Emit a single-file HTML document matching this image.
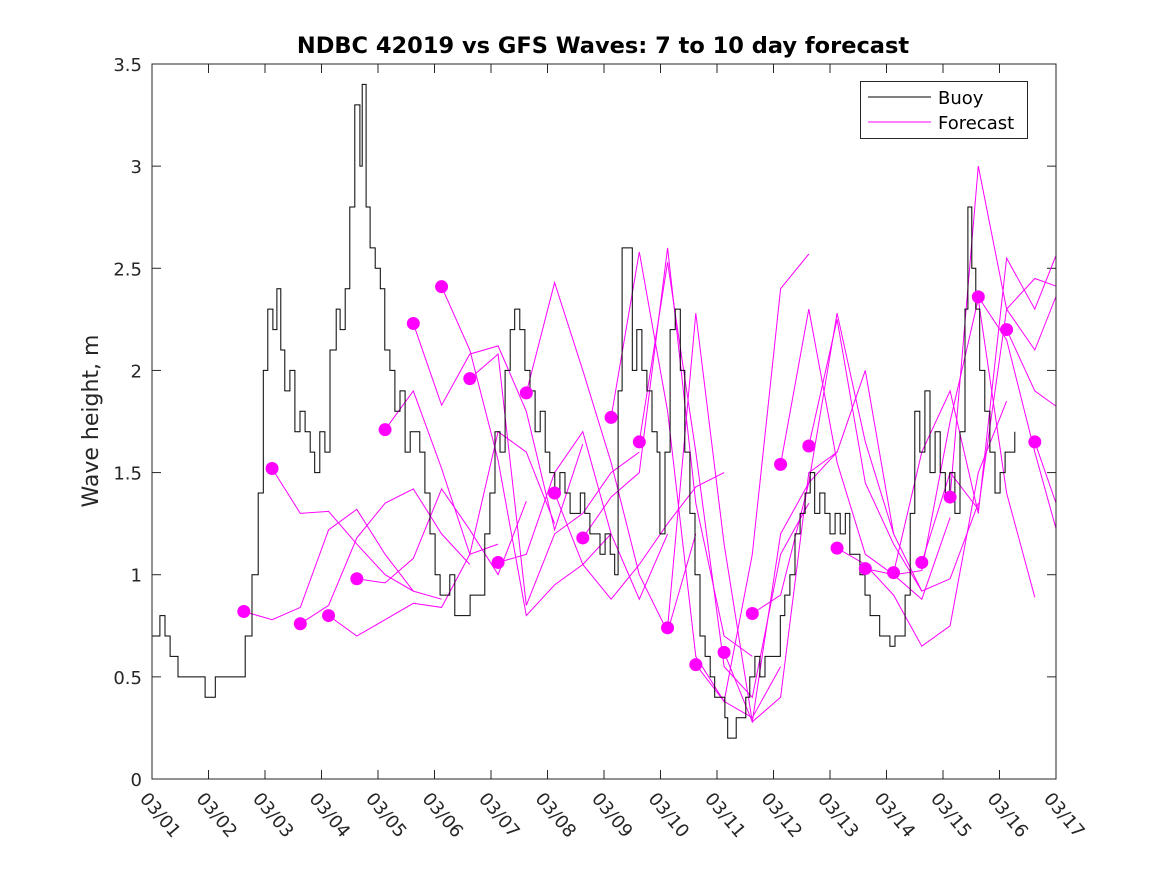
<!DOCTYPE html>
<html><head><meta charset="utf-8"><style>
html,body{margin:0;padding:0;background:#fff;}
svg{display:block;font-family:"DejaVu Sans","Liberation Sans",sans-serif;}
</style></head><body>
<svg id="chart" width="1167" height="875">
<rect x="0" y="0" width="1167" height="875" fill="#fff"/>
<text x="603" y="53" text-anchor="middle" font-size="22.5" font-weight="bold" fill="#000">NDBC 42019 vs GFS Waves: 7 to 10 day forecast</text>
<text transform="translate(98,421) rotate(-90)" text-anchor="middle" font-size="22" fill="#262626">Wave height, m</text>
<defs><clipPath id="plotclip"><rect x="152" y="64" width="904" height="715"/></clipPath></defs>
<g id="ticks"></g>
<g id="series" clip-path="url(#plotclip)"></g>
<rect x="152" y="64" width="904" height="715" fill="none" stroke="#262626" stroke-width="1"/>
<g>
<rect x="860.5" y="81.5" width="167" height="57" fill="#fff" stroke="#262626"/>
<line x1="868" y1="97" x2="931" y2="97" stroke="#000"/>
<text x="938" y="104" font-size="18" fill="#000">Buoy</text>
<line x1="868" y1="122" x2="931" y2="122" stroke="#ff00ff"/>
<text x="938" y="129" font-size="18" fill="#000">Forecast</text>
</g>
</svg>
<script>
const xTickLabels=["03/01","03/02","03/03","03/04","03/05","03/06","03/07","03/08","03/09","03/10","03/11","03/12","03/13","03/14","03/15","03/16","03/17"];
const yTickValues=[0,0.5,1,1.5,2,2.5,3,3.5];
const yTickLabels=["0","0.5","1","1.5","2","2.5","3","3.5"];
const buoyDays=[0,.14,.23,.32,.46,.76,.94,1.12,1.52,1.65,1.77,1.88,1.97,2.05,2.14,2.21,2.28,2.35,2.44,2.53,2.62,2.71,2.80,2.88,2.97,3.06,3.15,3.26,3.33,3.42,3.50,3.59,3.68,3.72,3.79,3.86,3.95,4.04,4.12,4.21,4.30,4.39,4.48,4.57,4.65,4.74,4.83,4.92,5.01,5.10,5.19,5.27,5.36,5.45,5.54,5.63,5.77,5.89,5.98,6.07,6.16,6.25,6.34,6.42,6.51,6.60,6.69,6.78,6.87,6.96,7.04,7.13,7.22,7.31,7.40,7.49,7.58,7.66,7.75,7.84,7.93,8.02,8.11,8.19,8.25,8.32,8.41,8.50,8.58,8.67,8.76,8.85,8.94,8.99,9.08,9.17,9.26,9.35,9.43,9.52,9.61,9.70,9.79,9.88,9.96,10.05,10.14,10.19,10.27,10.34,10.44,10.51,10.58,10.67,10.76,10.85,10.94,11.03,11.12,11.20,11.29,11.38,11.47,11.56,11.65,11.73,11.82,11.91,12.00,12.09,12.18,12.27,12.35,12.44,12.53,12.62,12.71,12.80,12.88,12.97,13.06,13.15,13.33,13.42,13.50,13.59,13.68,13.77,13.86,13.95,14.04,14.12,14.21,14.30,14.39,14.44,14.51,14.58,14.65,14.74,14.83,14.92,15.01,15.10,15.19,15.27];
const buoyHeights=[0.7,0.8,0.7,0.6,0.5,0.5,0.4,0.5,0.5,0.7,1.0,1.4,2.0,2.3,2.2,2.4,2.1,1.9,2.0,1.7,1.8,1.7,1.6,1.5,1.7,1.6,2.1,2.3,2.2,2.4,2.8,3.3,3.0,3.4,2.8,2.6,2.5,2.4,2.1,2.0,1.8,1.9,1.6,1.7,1.7,1.6,1.4,1.2,1.0,0.9,0.9,1.0,0.8,0.8,0.8,0.9,0.9,1.2,1.4,1.7,1.6,2.0,2.2,2.3,2.2,2.0,1.9,1.7,1.8,1.6,1.5,1.4,1.5,1.4,1.3,1.3,1.4,1.3,1.2,1.2,1.1,1.2,1.1,1.0,1.9,2.6,2.6,2.0,2.2,2.0,1.9,1.7,1.6,1.2,1.6,2.2,2.3,2.0,1.6,1.3,1.0,0.7,0.6,0.5,0.4,0.4,0.3,0.2,0.2,0.3,0.3,0.4,0.5,0.6,0.5,0.6,0.6,0.6,0.8,0.9,1.0,1.2,1.3,1.4,1.5,1.3,1.4,1.3,1.2,1.3,1.2,1.3,1.1,1.1,1.0,0.9,0.8,0.8,0.7,0.7,0.65,0.7,0.9,1.3,1.8,1.6,1.9,1.5,1.7,1.5,1.4,1.5,1.3,1.7,2.3,2.8,2.5,2.3,2.0,1.8,1.6,1.4,1.5,1.6,1.6,1.7];
const forecastStartDays=[1.625,2.125,2.625,3.125,3.625,4.125,4.625,5.125,5.625,6.125,6.625,7.125,7.625,8.125,8.625,9.125,9.625,10.125,10.625,11.125,11.625,12.125,12.625,13.125,13.625,14.125,14.625,15.125,15.625];
const forecastStep=0.5;
const forecastValues=[
[0.82,0.78,0.84,1.22,1.32,1.10,0.92],
[1.52,1.30,1.31,1.15,1.00,0.92,0.88],
[0.76,0.85,1.18,1.35,1.42,1.20,1.05],
[0.80,0.70,0.78,0.86,0.84,1.10,1.15],
[0.98,0.96,1.08,1.42,1.22,1.00,1.36],
[1.71,1.90,1.52,1.10,1.70,1.60,1.25],
[2.23,1.83,2.08,2.12,1.80,1.22,1.64],
[2.41,2.10,1.56,0.80,0.95,1.05,1.20],
[1.96,2.08,0.85,1.20,1.30,1.50,1.60],
[1.06,1.10,1.50,1.70,1.20,0.88,1.20],
[1.89,2.43,2.00,1.55,1.00,0.72,1.20],
[1.40,1.05,0.88,1.05,1.25,1.43,1.50],
[1.18,1.38,1.50,2.60,1.35,0.70,0.60],
[1.77,2.58,1.80,0.60,0.38,0.30,0.55],
[1.65,2.53,1.60,0.55,0.40,1.10,1.35],
[0.74,2.28,1.15,0.28,0.40,1.50,1.60],
[0.56,0.38,1.10,2.40,2.57],
[0.62,0.28,1.20,1.45,1.60,2.00,1.20],
[0.81,0.90,1.45,2.28,1.65,1.20,0.92],
[1.54,2.30,1.55,1.10,1.00,0.88,1.28],
[1.63,2.25,1.45,1.15,0.92,0.98,1.35],
[1.13,1.05,0.90,0.65,0.75,1.50,1.85],
[1.03,1.00,1.02,1.75,2.35,1.40,0.89],
[1.01,1.60,1.90,1.30,2.55,2.30,2.65],
[1.06,1.50,1.32,2.30,2.45,2.40,2.75],
[1.38,3.00,2.30,2.10,2.45,2.80,2.98],
[2.36,2.15,1.60,1.10,1.30,1.60],
[2.20,1.90,1.80,1.55,1.30],
[1.65,1.25]];
const NS="http://www.w3.org/2000/svg";
const X0=152,X1=1056,Y0=779,Y1=64,DAYS=16,YMAX=3.5;
function xs(d){return X0+(X1-X0)*d/DAYS;}
function ys(v){return Y0-(Y0-Y1)*v/YMAX;}
const ticks=document.getElementById('ticks');
const series=document.getElementById('series');
function mk(tag,attrs,parent){const e=document.createElementNS(NS,tag);for(const k in attrs)e.setAttribute(k,attrs[k]);parent.appendChild(e);return e;}
xTickLabels.forEach((lab,i)=>{
  const x=xs(i);
  const t=mk('line',{x1:x,y1:Y0,x2:x,y2:Y0-9,stroke:'#262626'},ticks);
  
  
  const t2=mk('line',{x1:x,y1:Y1,x2:x,y2:Y1+9,stroke:'#262626'},ticks);
  
  
  const tx=mk('text',{transform:`translate(${x-13},${Y0+20}) rotate(50)`,'font-size':18,fill:'#262626'},ticks);
  tx.textContent=lab;
  
  
});
yTickValues.forEach((v,i)=>{
  const y=ys(v);
  const t=mk('line',{x1:X0,y1:y,x2:X0+9,y2:y,stroke:'#262626'},ticks);
  
  
  const t2=mk('line',{x1:X1,y1:y,x2:X1-9,y2:y,stroke:'#262626'},ticks);
  
  
  const tx=mk('text',{x:X0-10,y:y+7,'text-anchor':'end','font-size':18,fill:'#262626'},ticks);
  tx.textContent=yTickLabels[i];
  
  
});
forecastValues.forEach((vals,k)=>{
  const d0=forecastStartDays[k];
  const pts=vals.map((v,j)=>xs(d0+j*forecastStep).toFixed(1)+','+ys(v).toFixed(1)).join(' ');
  const p=mk('polyline',{points:pts,fill:'none',stroke:'#ff00ff','stroke-width':1},series);
  
  
});
let d='M'+xs(buoyDays[0]).toFixed(1)+','+ys(buoyHeights[0]).toFixed(1);
for(let i=1;i<buoyDays.length;i++){
  d+=' H'+xs(buoyDays[i]).toFixed(1)+' V'+ys(buoyHeights[i]).toFixed(1);
}
const bp=mk('path',{d:d,fill:'none',stroke:'#000','stroke-width':1},series);


forecastValues.forEach((vals,k)=>{
  const c=mk('circle',{cx:xs(forecastStartDays[k]),cy:ys(vals[0]),r:6.5,fill:'#ff00ff'},series);
  
  
});
</script>
</body></html>
